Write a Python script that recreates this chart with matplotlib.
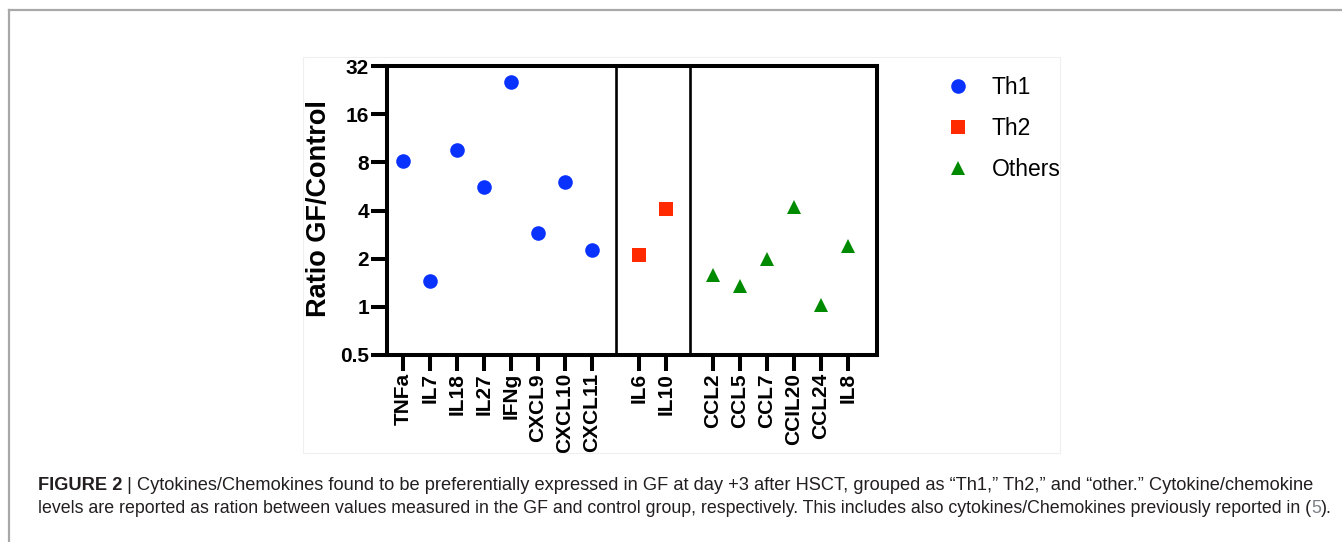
import numpy as np
import matplotlib
matplotlib.use('Agg')
import matplotlib.pyplot as plt
from matplotlib.lines import Line2D
from matplotlib.patches import Rectangle

# ---------------- data ----------------
th1_labels = ['TNFa', 'IL7', 'IL18', 'IL27', 'IFNg', 'CXCL9', 'CXCL10', 'CXCL11']
th1_values = [8.1, 1.45, 9.5, 5.6, 25.5, 2.88, 6.0, 2.26]
th2_labels = ['IL6', 'IL10']
th2_values = [2.11, 4.08]
oth_labels = ['CCL2', 'CCL5', 'CCL7', 'CCIL20', 'CCL24', 'IL8']
oth_values = [1.57, 1.34, 2.0, 4.2, 1.02, 2.4]
series_names = ['Th1', 'Th2', 'Others']
yticks = [0.5, 1, 2, 4, 8, 16, 32]
ytick_labels = ['0.5', '1', '2', '4', '8', '16', '32']
ylabel = 'Ratio GF/Control'
caption_bold = 'FIGURE 2'
caption_line1 = (' | Cytokines/Chemokines found to be preferentially expressed in GF at day +3 after HSCT, '
                 'grouped as \u201cTh1,\u201d Th2,\u201d and \u201cother.\u201d Cytokine/chemokine')
caption_line2a = ('levels are reported as ration between values measured in the GF and control group, '
                  'respectively. This includes also cytokines/Chemokines previously reported in (')
caption_ref = '5'
caption_line2b = ').'

# ---------------- style ----------------
W, H = 1342, 542
fig = plt.figure(figsize=(W / 100, H / 100), dpi=100)
fig.patch.set_facecolor('white')

def fx(px):
    return px / W

def fy(py):
    return 1 - py / H

# outer frame lines
fig.add_artist(Line2D([fx(9), 1.0], [fy(10), fy(10)], color='#a8a8a8', lw=1.6, transform=fig.transFigure))
fig.add_artist(Line2D([fx(9), fx(9)], [fy(10), 0.0], color='#a8a8a8', lw=1.6, transform=fig.transFigure))
# faint inner image border
fig.add_artist(Rectangle((fx(303), fy(453)), fx(1060) - fx(303), fy(57) - fy(453),
                         transform=fig.transFigure, fill=False, ec='#efefef', lw=0.8))

ax = fig.add_axes([fx(387), fy(355), fx(877) - fx(387), fy(66) - fy(355)])

groups = [th1_labels, th2_labels, oth_labels]
values = [th1_values, th2_values, oth_values]
colors = ['#0a32ff', '#ff2a00', '#008a00']
markers = ['o', 's', '^']
gap = 1.74

positions = []
start = 0.0
for g in groups:
    p = start + np.arange(len(g))
    positions.append(p)
    start = p[-1] + gap

handles = []
for p, v, c, m, name in zip(positions, values, colors, markers, series_names):
    h, = ax.plot(p, v, linestyle='none', marker=m, color=c, markersize=10.5,
                 markeredgewidth=0, label=name)
    handles.append(h)

# dividers between groups
for a, b in zip(positions[:-1], positions[1:]):
    ax.axvline((a[-1] + b[0]) / 2 + 0.03, color='black', lw=1.9)

ax.set_yscale('log', base=2)
ax.set_ylim(0.5, 32)
ax.set_yticks(yticks)
ax.set_yticklabels(ytick_labels)
ax.yaxis.set_minor_locator(matplotlib.ticker.NullLocator())
ax.set_xlim(-0.59, 17.56)
allpos = np.concatenate(positions)
alllab = th1_labels + th2_labels + oth_labels
ax.set_xticks(allpos)
ax.set_xticklabels(alllab, rotation=90)

for s in ax.spines.values():
    s.set_linewidth(2.9)
ax.tick_params(axis='both', which='major', width=2.9, length=11.5, color='black')
ax.tick_params(axis='y', pad=1.5)
ax.tick_params(axis='x', pad=1.5)
for lab in ax.get_yticklabels():
    lab.set_fontfamily('Liberation Sans')
    lab.set_fontweight('bold')
    lab.set_fontsize(15)
for lab in ax.get_xticklabels():
    lab.set_fontfamily('Liberation Sans')
    lab.set_fontweight('bold')
    lab.set_fontsize(15)

ax.set_ylabel(ylabel, fontfamily='Liberation Sans', fontweight='bold', fontsize=19.5, va='center')
ax.yaxis.set_label_coords((319 - 387) / (877 - 387), (355 - 209) / (355 - 66))

leg = ax.legend(handles=handles, labels=series_names, loc='upper left',
                bbox_to_anchor=(fx(947), fy(76)), bbox_transform=fig.transFigure,
                frameon=False, prop={'family': 'Liberation Sans', 'size': 16.5},
                handlelength=0.95, handletextpad=1.0, labelspacing=0.79, borderpad=0,
                borderaxespad=0)

# ---------------- caption ----------------
cap_font = ['Liberation Sans', 'DejaVu Sans']
cap_color = '#231f20'
fig.canvas.draw()
r = fig.canvas.get_renderer()


def caption_line(pieces, y_px, x0_px, x1_px, size0=13.0):
    """pieces: list of (text, weight, color). Fit total width to x1-x0."""
    arts = []
    for txt, wt, col in pieces:
        arts.append(fig.text(0, fy(y_px), txt, fontfamily=cap_font, fontweight=wt,
                             fontsize=size0, color=col, va='baseline', ha='left'))
    for _ in range(2):
        x = x0_px
        for a in arts:
            a.set_x(x / W)
            x = a.get_window_extent(renderer=r).x1
        total = x - x0_px
        scale = (x1_px - x0_px) / total
        for a in arts:
            a.set_fontsize(a.get_fontsize() * scale)
    x = x0_px
    for a in arts:
        a.set_x(x / W)
        x = a.get_window_extent(renderer=r).x1
    return arts


caption_line([(caption_bold, 'bold', cap_color), (caption_line1, 'normal', cap_color)],
             490, 38, 1318)
caption_line([(caption_line2a, 'normal', cap_color), (caption_ref, 'normal', '#7a7f86'),
              (caption_line2b, 'normal', cap_color)], 513, 38, 1333)

fig.savefig('out.png', dpi=100, facecolor='white')
